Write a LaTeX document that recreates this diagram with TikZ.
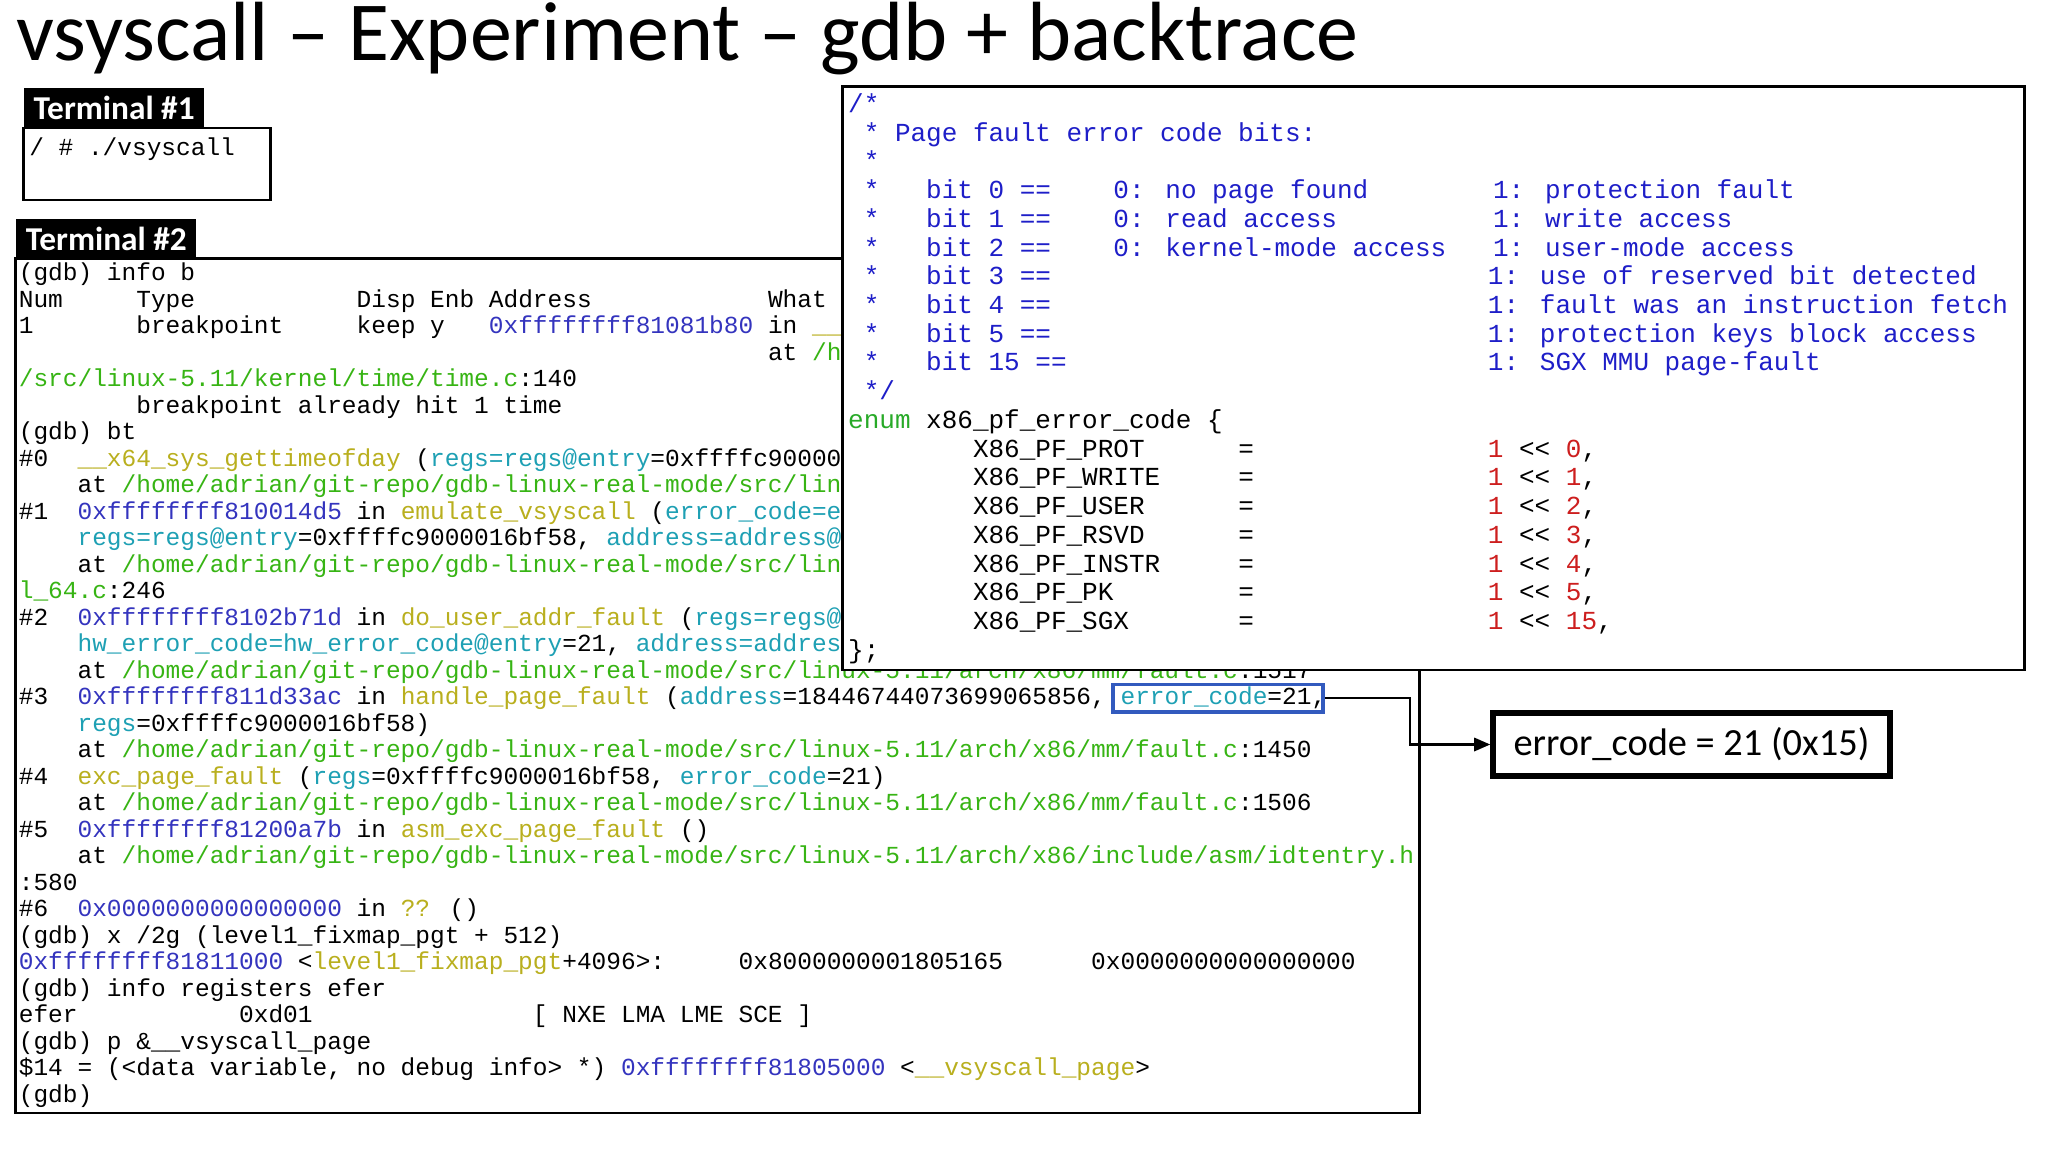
\documentclass[tikz,border=0pt]{standalone}
\usepackage{fontspec}
\setmainfont{Carlito}
\newfontfamily\monoA{Liberation Mono}
\usetikzlibrary{arrows.meta}
\definecolor{addrc}{RGB}{52,52,190}
\definecolor{funcc}{RGB}{185,175,30}
\definecolor{parc}{RGB}{30,160,180}
\definecolor{pathc}{RGB}{55,180,20}
\definecolor{cmtc}{RGB}{30,30,200}
\definecolor{enumc}{RGB}{40,170,40}
\definecolor{numc}{RGB}{205,30,30}
\newcommand\sk[1]{\hspace*{#1\fontcharwd\font`0}}
\newcommand\ad[1]{\textcolor{addrc}{#1}}
\newcommand\fn[1]{\textcolor{funcc}{#1}}
\newcommand\pa[1]{\textcolor{parc}{#1}}
\newcommand\ph[1]{\textcolor{pathc}{#1}}
\newcommand\cm[1]{\textcolor{cmtc}{#1}}
\newcommand\rn[1]{\textcolor{numc}{#1}}
\newcommand\hp{/home/adrian/git-repo/gdb-linux-real-mode/src/linux-5.11/arch/x86/}
\tikzset{
  tl/.style={anchor=base west,inner sep=0pt,font=\monoA\fontsize{9.18pt}{10pt}\selectfont},
  rl/.style={anchor=base west,inner sep=0pt,font=\monoA\fontsize{9.75pt}{10pt}\selectfont},
  tab/.style={fill=black,text=white,font=\bfseries\fontsize{12.5pt}{14pt}\selectfont,anchor=south west,inner sep=0pt,minimum height=30*0.4898pt},
  frame/.style={draw=black,line width=1pt},
}
\begin{document}
\begin{tikzpicture}[x=0.4898pt,y=-0.4898pt]
\useasboundingbox[fill=white] (0,0) rectangle (1568,882);
\node[anchor=base west,inner sep=0pt,font=\fontsize{31.5pt}{34pt}\selectfont] (title) at (12,46) {vsyscall – Experiment – gdb + backtrace};
% terminal 1
\draw[frame] (18,98) rectangle (207,153);
\node[tab,minimum width=138*0.4898pt] (t1) at (18,98) {Terminal \#1};
\node[tl] (t1a) at (22,119) {/ \# ./vsyscall};
% terminal 2
\draw[frame] (12,198) rectangle (1087,852);
\node[tab,minimum width=138*0.4898pt] (t2) at (12,198) {Terminal \#2};
\foreach \i/\t in {
1/{(gdb) info b},
2/{Num\sk{5}Type\sk{11}Disp Enb Address\sk{12}What},
3/{1\sk{7}breakpoint\sk{5}keep y\sk{3}\ad{0xffffffff81081b80} in \fn{\_\_}},
4/{\sk{51}at \ph{/h}},
5/{\ph{/src/linux-5.11/kernel/time/time.c}:140},
6/{\sk{8}breakpoint already hit 1 time},
7/{(gdb) bt},
8/{\#0\sk{2}\fn{\_\_x64\_sys\_gettimeofday} (\pa{regs=regs@entry}=0xffffc9000016bf58)},
9/{\sk{4}at \ph{/home/adrian/git-repo/gdb-linux-real-mode/src/linux}},
10/{\#1\sk{2}\ad{0xffffffff810014d5} in \fn{emulate\_vsyscall} (\pa{error\_code=error\_code}},
11/{\sk{4}\pa{regs=regs@entry}=0xffffc9000016bf58, \pa{address=address@entry}},
12/{\sk{4}at \ph{/home/adrian/git-repo/gdb-linux-real-mode/src/linux}},
13/{\ph{l\_64.c}:246},
14/{\#2\sk{2}\ad{0xffffffff8102b71d} in \fn{do\_user\_addr\_fault} (\pa{regs=regs@entry}},
15/{\sk{4}\pa{hw\_error\_code=hw\_error\_code@entry}=21, \pa{address=address@entry}},
16/{\sk{4}at \ph{\hp mm/fault.c}:1517},
17/{\#3\sk{2}\ad{0xffffffff811d33ac} in \fn{handle\_page\_fault} (\pa{address}=18446744073699065856, \pa{error\_code}=21,},
18/{\sk{4}\pa{regs}=0xffffc9000016bf58)},
19/{\sk{4}at \ph{\hp mm/fault.c}:1450},
20/{\#4\sk{2}\fn{exc\_page\_fault} (\pa{regs}=0xffffc9000016bf58, \pa{error\_code}=21)},
21/{\sk{4}at \ph{\hp mm/fault.c}:1506},
22/{\#5\sk{2}\ad{0xffffffff81200a7b} in \fn{asm\_exc\_page\_fault} ()},
23/{\sk{4}at \ph{\hp include/asm/idtentry.h}},
24/{:580},
25/{\#6\sk{2}\ad{0x0000000000000000} in \fn{??} ()},
26/{(gdb) x /2g (level1\_fixmap\_pgt + 512)},
27/{\ad{0xffffffff81811000} <\fn{level1\_fixmap\_pgt}+4096>:\sk{5}0x8000000001805165\sk{6}0x0000000000000000},
28/{(gdb) info registers efer},
29/{efer\sk{11}0xd01\sk{15}[ NXE LMA LME SCE ]},
30/{(gdb) p \&\_\_vsyscall\_page},
31/{\$14 = (<data variable, no debug info> *) \ad{0xffffffff81805000} <\fn{\_\_vsyscall\_page}>},
32/{(gdb)}}
  \node[tl] (L\i) at (14,{215+(\i-1)*20.29}) {\t};
% right box
\draw[frame,fill=white] (645,66) rectangle (1550,513);
\foreach \i/\t in {
1/{\cm{/*}},
2/{\cm{\sk{1}* Page fault error code bits:}},
3/{\cm{\sk{1}*}},
4/{\cm{\sk{1}*\sk{3}bit 0 ==\sk{4}0: no page found\sk{8}1: protection fault}},
5/{\cm{\sk{1}*\sk{3}bit 1 ==\sk{4}0: read access\sk{10}1: write access}},
6/{\cm{\sk{1}*\sk{3}bit 2 ==\sk{4}0: kernel-mode access\sk{3}1: user-mode access}},
7/{\cm{\sk{1}*\sk{3}bit 3 ==\sk{28}1: use of reserved bit detected}},
8/{\cm{\sk{1}*\sk{3}bit 4 ==\sk{28}1: fault was an instruction fetch}},
9/{\cm{\sk{1}*\sk{3}bit 5 ==\sk{28}1: protection keys block access}},
10/{\cm{\sk{1}*\sk{3}bit 15 ==\sk{27}1: SGX MMU page-fault}},
11/{\cm{\sk{1}*/}},
12/{\textcolor{enumc}{enum} x86\_pf\_error\_code \{},
13/{\sk{8}X86\_PF\_PROT\sk{6}=\sk{15}\rn{1} << \rn{0},},
14/{\sk{8}X86\_PF\_WRITE\sk{5}=\sk{15}\rn{1} << \rn{1},},
15/{\sk{8}X86\_PF\_USER\sk{6}=\sk{15}\rn{1} << \rn{2},},
16/{\sk{8}X86\_PF\_RSVD\sk{6}=\sk{15}\rn{1} << \rn{3},},
17/{\sk{8}X86\_PF\_INSTR\sk{5}=\sk{15}\rn{1} << \rn{4},},
18/{\sk{8}X86\_PF\_PK\sk{8}=\sk{15}\rn{1} << \rn{5},},
19/{\sk{8}X86\_PF\_SGX\sk{7}=\sk{15}\rn{1} << \rn{15},},
20/{\};}}
  \node[rl] (R\i) at (649,{86+(\i-1)*22}) {\t};
% highlight + result
\node[draw={rgb,255:red,50;green,90;blue,190},line width=1.3pt,minimum width=161*0.4898pt,minimum height=21*0.4898pt,inner sep=0pt] (hl) at (932.5,534.5) {};
\node[draw=black,line width=2pt,minimum width=304*0.4898pt,minimum height=48*0.4898pt,inner sep=0pt,font=\fontsize{14.4pt}{18pt}\selectfont] (res) at (1295,570) {error\_code = 21 (0x15)};
\draw[line width=0.8pt,-{Triangle[length=6pt,width=5pt]}] (hl.east) -- ++(65,0) |- (res.west);
\end{tikzpicture}
\end{document}
